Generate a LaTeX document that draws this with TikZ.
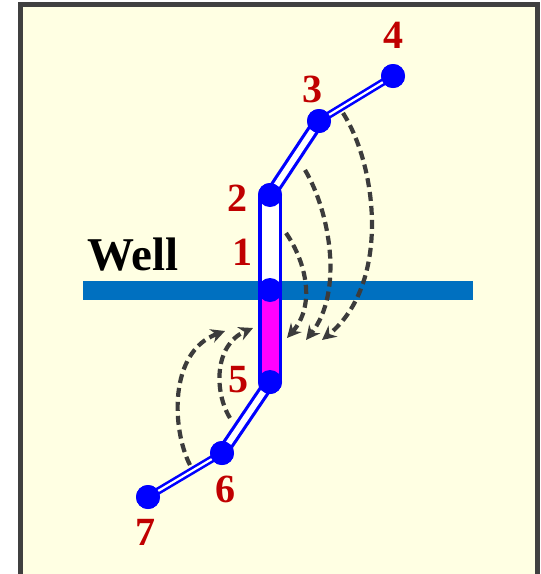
\documentclass[tikz,border=0pt]{standalone}
\usepackage{fontspec}
\setmainfont{Liberation Serif}
\usetikzlibrary{arrows.meta}
\definecolor{paper}{HTML}{FFFFE3}
\definecolor{rim}{HTML}{404040}
\definecolor{wellblue}{HTML}{0070C0}
\definecolor{pipeblue}{HTML}{0000FF}
\definecolor{pipefill}{HTML}{FF00FF}
\definecolor{stagered}{HTML}{C00000}
\definecolor{flowgray}{HTML}{3C3C3C}
\tikzset{
  % a perforation point on the fracture
  pt/.style={circle, fill=pipeblue, inner sep=0pt, minimum size=24pt},
  % its number
  num/.style={text=stagered, inner sep=0pt,
    font=\fontsize{40}{40}\selectfont\bfseries},
  % the well itself
  wellbar/.style={rectangle, fill=wellblue, inner sep=0pt,
    minimum width=390pt, minimum height=19pt},
  % fracture segments, from wide to narrow
  widepipe/.style={draw=pipeblue, line width=3.5pt, double=#1, double distance=17pt},
  midpipe/.style={draw=pipeblue, line width=3.2pt, double=white, double distance=6pt},
  thinpipe/.style={draw=pipeblue, line width=2.6pt, double=white, double distance=2.2pt},
  % flow back towards the well
  flow/.style={draw=flowgray, line width=4.2pt, dash pattern=on 9pt off 5pt,
    -{Stealth[length=14pt, width=14pt]}},
}

\begin{document}
\begin{tikzpicture}[x=1pt, y=-1pt]

\useasboundingbox (0,0) rectangle (541,574);
\draw[rim, line width=5pt, fill=paper] (20.5,4.5) rectangle (537.5,576);

\node[wellbar] (well) at (278,290.5) {};
\node[font=\fontsize{47}{47}\selectfont\bfseries, inner sep=0pt] (welltext) at (133,255) {Well};

% points along the fracture
\node[pt] (n1) at (270,290) {};
\node[pt] (n2) at (270,195) {};
\node[pt] (n3) at (319,121) {};
\node[pt] (n4) at (393,76) {};
\node[pt] (n5) at (270,382) {};
\node[pt] (n6) at (222,453) {};
\node[pt] (n7) at (148,497) {};

\draw[widepipe=white] (n2.center) -- (n1.center);
\draw[widepipe=pipefill] (n1.center) -- (n5.center);
\draw[midpipe] (n2.center) -- (n3.center);
\draw[midpipe] (n5.center) -- (n6.center);
\draw[thinpipe] (n3.center) -- (n4.center);
\draw[thinpipe] (n6.center) -- (n7.center);

% redraw the points over the pipes
\foreach \p in {n1,n2,n3,n4,n5,n6,n7}
  \fill[pipeblue] (\p) circle (12pt);

\node[num] (l1) at (242,252) {1};
\node[num] (l2) at (237,198) {2};
\node[num] (l3) at (312,89) {3};
\node[num] (l4) at (393,35) {4};
\node[num] (l5) at (238,380) {5};
\node[num] (l6) at (225,489) {6};
\node[num] (l7) at (145,532) {7};

% ends of the flow arrows
\coordinate (a1) at (286,233);  \coordinate (a2) at (287,338);
\coordinate (b1) at (305,170);  \coordinate (b2) at (306,340);
\coordinate (c1) at (343,113);  \coordinate (c2) at (322,340);
\coordinate (d1) at (230,418);  \coordinate (d2) at (253,328);
\coordinate (e1) at (190,465);  \coordinate (e2) at (225,331);

\draw[flow] (a1) .. controls (306,262) and (316,305) .. (a2);
\draw[flow] (b1) .. controls (330,212) and (344,292) .. (b2);
\draw[flow] (c1) .. controls (378,168) and (390,285) .. (c2);
\draw[flow] (d1) .. controls (214,392) and (214,345) .. (d2);
\draw[flow] (e1) .. controls (172,430) and (168,352) .. (e2);

\end{tikzpicture}
\end{document}
